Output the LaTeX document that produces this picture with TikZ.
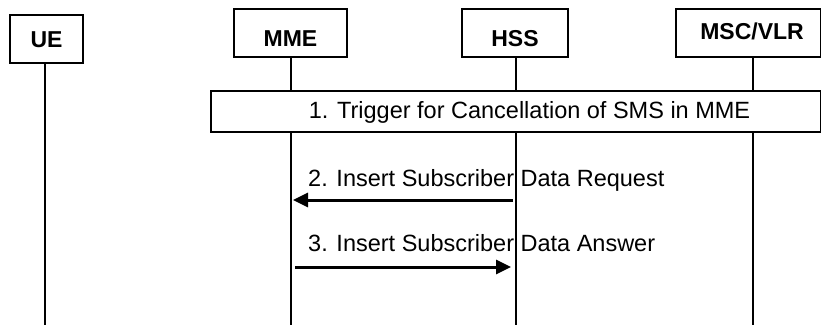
\documentclass[tikz,border=0pt]{standalone}
\usepackage{fontspec}
\setmainfont{Liberation Sans}
\usetikzlibrary{arrows.meta}
\begin{document}
\begin{tikzpicture}[x=1pt,y=-1pt,
  box/.style={draw,line width=1.3pt,fill=white,inner sep=0pt,outer sep=0pt,anchor=north west},
  ent/.style={inner sep=0pt,font=\fontsize{23}{27}\selectfont\bfseries},
  life/.style={line width=1.3pt},
  msg/.style={line width=3pt,-{Triangle[length=15pt,width=14pt]}},
  lbl/.style={anchor=west,inner sep=0pt,font=\fontsize{23.5}{28}\selectfont}]
\useasboundingbox (0,0) rectangle (821,325);
% entity boxes
\node[box,minimum width=73pt,minimum height=48pt] (ueBox) at (10,15) {};
\node[ent] (ue) at (46.5,40) {UE};
\node[box,minimum width=113pt,minimum height=48pt] (mmeBox) at (234,9) {};
\node[ent] (mme) at (290.5,38.5) {MME};
\node[box,minimum width=106pt,minimum height=48pt] (hssBox) at (462,9) {};
\node[ent] (hss) at (515,39) {HSS};
\node[box,minimum width=144.3pt,minimum height=48pt] (mscBox) at (676,9) {};
\node[ent] (msc) at (752,31.5) {MSC/VLR};
% lifeline ends
\coordinate (ueB) at (45,325);
\coordinate (mmeB) at (291,325);
\coordinate (hssB) at (516,325);
\coordinate (mscB) at (753,325);
% labels
\node[lbl] (l2) at (308,180) {2. Insert Subscriber Data Request};
\node[lbl] (l3) at (308,243) {3. Insert Subscriber Data Answer};
% lifelines
\draw[life] (ueBox.south -| ueB) -- (ueB);
\draw[life] (mmeBox.south -| mmeB) -- (mmeB);
\draw[life] (hssBox.south -| hssB) -- (hssB);
\draw[life] (mscBox.south -| mscB) -- (mscB);
% trigger box
\node[box,minimum width=609.3pt,minimum height=41pt] (trig) at (211,91) {};
\node[font=\fontsize{23.5}{28}\selectfont,inner sep=0pt] (t1) at (529.5,112.5) {1. Trigger for Cancellation of SMS in MME};
% messages
\coordinate (a2s) at (513,200); \coordinate (a2e) at (293,200);
\coordinate (a3s) at (295,267); \coordinate (a3e) at (511,267);
\draw[msg] (a2s) -- (a2e);
\draw[msg] (a3s) -- (a3e);
\end{tikzpicture}
\end{document}
